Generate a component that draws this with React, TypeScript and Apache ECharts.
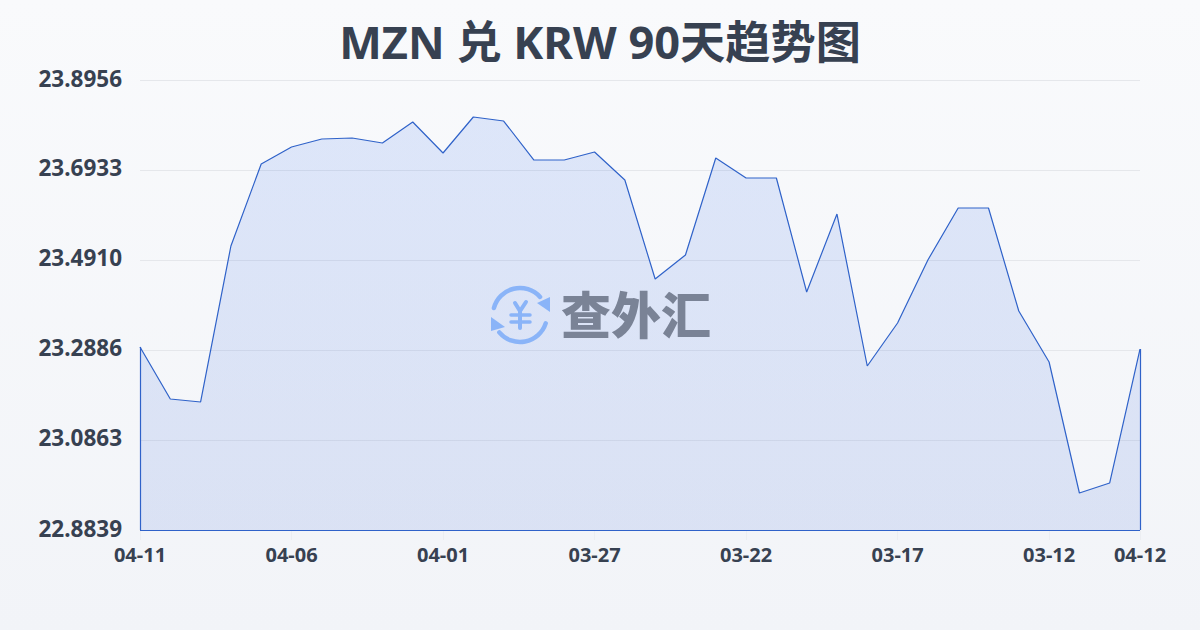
import React, { useEffect, useRef } from "react";
import * as echarts from "echarts";

const titleText = "MZN 兑 KRW 90天趋势图";
const categories = [
  "04-11","04-10","04-09","04-08","04-07","04-06","04-05","04-04","04-03","04-02",
  "04-01","03-31","03-30","03-29","03-28","03-27","03-26","03-25","03-24","03-23",
  "03-22","03-21","03-20","03-19","03-18","03-17","03-16","03-15","03-14","03-13",
  "03-12","03-11","03-10","04-12",
];
const shownLabels = [0, 5, 10, 15, 20, 25, 30, 33];
const rates = [
  23.2953,23.1784,23.1717,23.5224,23.7067,23.7450,23.7629,23.7652,23.7540,23.8012,
  23.7315,23.8124,23.8034,23.7157,23.7157,23.7337,23.6708,23.4482,23.5022,23.7202,
  23.6753,23.6753,23.4190,23.5943,23.2526,23.3493,23.4909,23.6078,23.6078,23.3763,
  23.2616,22.9671,22.9896,23.2908,
];
const yTicks = [22.8839, 23.0863, 23.2886, 23.4910, 23.6933, 23.8956];

const FONT = '"Noto Sans", "Noto Sans CJK SC", sans-serif';
const LINE = "#2f62c9";
const ICON = "#8ab4f8";
const deg = (d: number) => (d * Math.PI) / 180;

export default function App() {
  const ref = useRef<HTMLDivElement>(null);
  useEffect(() => {
    const chart = echarts.init(ref.current!, undefined, { renderer: "svg" });
    const last = categories.length - 1;
    const yMin = yTicks[0];
    chart.setOption({
      animation: false,
      backgroundColor: {
        type: "linear", x: 0, y: 0, x2: 0, y2: 1,
        colorStops: [{ offset: 0, color: "#f9fafc" }, { offset: 1, color: "#f2f4f8" }],
      },
      title: {
        text: titleText, left: "center", top: 14,
        textStyle: { fontFamily: FONT, fontSize: 45.2, fontWeight: 700, color: "#374151" },
      },
      grid: { left: 140, right: 60, top: 80, bottom: 100 },
      xAxis: {
        type: "category", data: categories, boundaryGap: false,
        axisLine: { show: false },
        axisTick: { show: true, length: 10, interval: (i: number) => shownLabels.includes(i), lineStyle: { color: "#eceef2" } },
        axisLabel: {
          interval: (i: number) => shownLabels.includes(i), margin: 14,
          fontFamily: FONT, fontSize: 20, fontWeight: 700, color: "#374151",
        },
      },
      yAxis: {
        type: "value", min: yMin, max: yTicks[yTicks.length - 1],
        axisLine: { show: false },
        axisTick: { show: false, customValues: yTicks },
        splitLine: { show: true, lineStyle: { color: "#e5e7eb", width: 1 } },
        axisLabel: {
          customValues: yTicks, margin: 18,
          formatter: (v: number) => v.toFixed(4),
          fontFamily: FONT, fontSize: 22.5, fontWeight: 700, color: "#374151",
          verticalAlign: "bottom", lineHeight: 4,
        },
      },
      series: [{
        type: "line", data: rates, symbol: "none", smooth: false,
        lineStyle: { color: LINE, width: 1.2 },
        areaStyle: {
          color: {
            type: "linear", x: 0, y: 0, x2: 0, y2: 1,
            colorStops: [{ offset: 0, color: "rgba(37,99,235,0.18)" }, { offset: 1, color: "rgba(37,85,210,0.17)" }],
          },
        },
        markLine: {
          silent: true, symbol: "none", label: { show: false },
          lineStyle: { color: LINE, width: 1.2, type: "solid" },
          data: [
            [{ coord: [0, yMin] }, { coord: [0, rates[0]] }],
            [{ coord: [last, yMin] }, { coord: [last, rates[last]] }],
            [{ coord: [0, yMin] }, { coord: [last, yMin] }],
          ],
        },
      }],
      graphic: [
        { type: "arc", z: 50, shape: { cx: 520, cy: 315, r: 27, startAngle: deg(195), endAngle: deg(318), clockwise: true }, style: { stroke: ICON, lineWidth: 4.5, fill: "none", lineCap: "round" } },
        { type: "arc", z: 50, shape: { cx: 520, cy: 315, r: 27, startAngle: deg(18), endAngle: deg(140), clockwise: true }, style: { stroke: ICON, lineWidth: 4.5, fill: "none", lineCap: "round" } },
        { type: "polygon", z: 50, shape: { points: [[550, 297], [550, 312], [537, 303]] }, style: { fill: ICON } },
        { type: "polygon", z: 50, shape: { points: [[491, 317], [491, 331], [505, 327]] }, style: { fill: ICON } },
        { type: "polyline", z: 50, shape: { points: [[515, 303], [520, 311], [526, 302]] }, style: { stroke: ICON, lineWidth: 4, fill: "none", lineCap: "round" } },
        { type: "line", z: 50, shape: { x1: 520, y1: 311, x2: 520, y2: 328 }, style: { stroke: ICON, lineWidth: 4, lineCap: "round" } },
        { type: "line", z: 50, shape: { x1: 511, y1: 315, x2: 530, y2: 315 }, style: { stroke: ICON, lineWidth: 3.5, lineCap: "round" } },
        { type: "line", z: 50, shape: { x1: 511, y1: 322, x2: 530, y2: 322 }, style: { stroke: ICON, lineWidth: 3.5, lineCap: "round" } },
        { type: "text", z: 50, x: 636, y: 312, style: { text: "查外汇", fill: "#7a8396", font: '900 50px "Noto Sans CJK SC", sans-serif', textAlign: "center", textVerticalAlign: "middle" } },
      ],
    });
    return () => chart.dispose();
  }, []);
  return <div ref={ref} style={{ position: "absolute", left: 0, top: 0, width: 1200, height: 630 }} />;
}
